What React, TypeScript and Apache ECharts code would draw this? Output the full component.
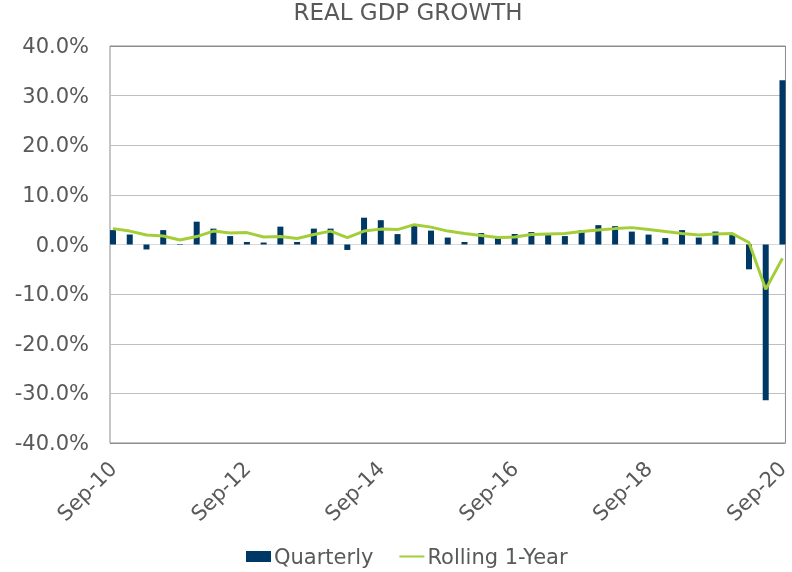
import React, { useEffect, useRef } from "react";
import * as echarts from "echarts";

const quarterly = [2.9, 2.0, -1.0, 2.9, -0.1, 4.6, 3.2, 1.7, 0.5, 0.4, 3.6, 0.5, 3.2, 3.2, -1.1, 5.4, 4.9, 2.1, 3.8, 2.8, 1.4, 0.5, 2.3, 1.3, 2.1, 2.5, 2.1, 1.7, 2.9, 3.9, 3.7, 2.6, 2.0, 1.3, 2.9, 1.4, 2.6, 2.1, -5.0, -31.4, 33.1];
const rolling = [3.2, 2.7, 1.9, 1.7, 0.9, 1.6, 2.7, 2.3, 2.4, 1.5, 1.6, 1.2, 2.0, 2.7, 1.4, 2.7, 3.1, 3.0, 4.0, 3.5, 2.7, 2.2, 1.8, 1.4, 1.5, 2.0, 2.1, 2.2, 2.6, 2.9, 3.2, 3.4, 3.0, 2.6, 2.2, 1.9, 2.1, 2.2, 0.4, -9.0, -2.8];
const tickIndexes = [0, 8, 16, 24, 32, 40];
const tickLabels = ["Sep-10", "Sep-12", "Sep-14", "Sep-16", "Sep-18", "Sep-20"];

const FONT = "DejaVu Sans";
const GREY_TEXT = "#595959";

export default function App() {
  const ref = useRef<HTMLDivElement>(null);
  useEffect(() => {
    if (!ref.current) return;
    const chart = echarts.init(ref.current, null, { renderer: "svg" });
    chart.setOption({
      animation: false,
      title: {
        text: "REAL GDP GROWTH",
        left: 408,
        textAlign: "center",
        top: 0,
        padding: 0,
        textStyle: { fontFamily: FONT, fontSize: 23, fontWeight: "normal", color: GREY_TEXT },
      },
      legend: {
        left: 246,
        top: 546,
        itemWidth: 25,
        itemHeight: 11,
        itemGap: 25,
        padding: 0,
        textStyle: { fontFamily: FONT, fontSize: 21, color: GREY_TEXT, padding: [0, 0, 0, -2] },
        data: [
          { name: "Quarterly", icon: "rect" },
          { name: "Rolling 1-Year", itemStyle: { opacity: 0 } },
        ],
      },
      grid: {
        left: 110,
        right: 3,
        top: 46,
        bottom: 129,
        show: true,
        borderColor: "#8c8c8c",
        borderWidth: 1,
        containLabel: false,
      },
      xAxis: {
        type: "value",
        min: -0.18,
        max: 40.18,
        axisLine: { show: false },
        axisTick: { show: false },
        splitLine: { show: false },
        axisLabel: {
          customValues: tickIndexes,
          rotate: 45,
          margin: 22,
          fontFamily: FONT,
          fontSize: 21,
          color: GREY_TEXT,
          formatter: (v: number) => {
            const i = tickIndexes.indexOf(Math.round(v));
            return i >= 0 ? tickLabels[i] : "";
          },
        },
      },
      yAxis: {
        type: "value",
        min: -40,
        max: 40,
        interval: 10,
        axisLine: { show: false },
        axisTick: { show: false },
        axisLabel: {
          margin: 21,
          fontFamily: FONT,
          fontSize: 21,
          color: GREY_TEXT,
          formatter: (v: number) => v.toFixed(1) + "%",
        },
        splitLine: {
          lineStyle: {
            color: ["#8c8c8c", "#bfbfbf", "#bfbfbf", "#bfbfbf", "#d9d9d9", "#bfbfbf", "#bfbfbf", "#bfbfbf", "#8c8c8c"],
            width: 1,
          },
        },
      },
      series: [
        {
          name: "Quarterly",
          type: "bar",
          barWidth: 6,
          itemStyle: { color: "#003865" },
          data: quarterly.map((v, i) => [i, v]),
        },
        {
          name: "Rolling 1-Year",
          type: "line",
          symbol: "none",
          lineStyle: { color: "#A4CE39", width: 3 },
          itemStyle: { color: "#A4CE39" },
          data: rolling.map((v, i) => [i, v]),
        },
      ],
    });
    return () => chart.dispose();
  }, []);
  return <div ref={ref} style={{ position: "fixed", left: 0, top: 0, width: 792, height: 572 }} />;
}
